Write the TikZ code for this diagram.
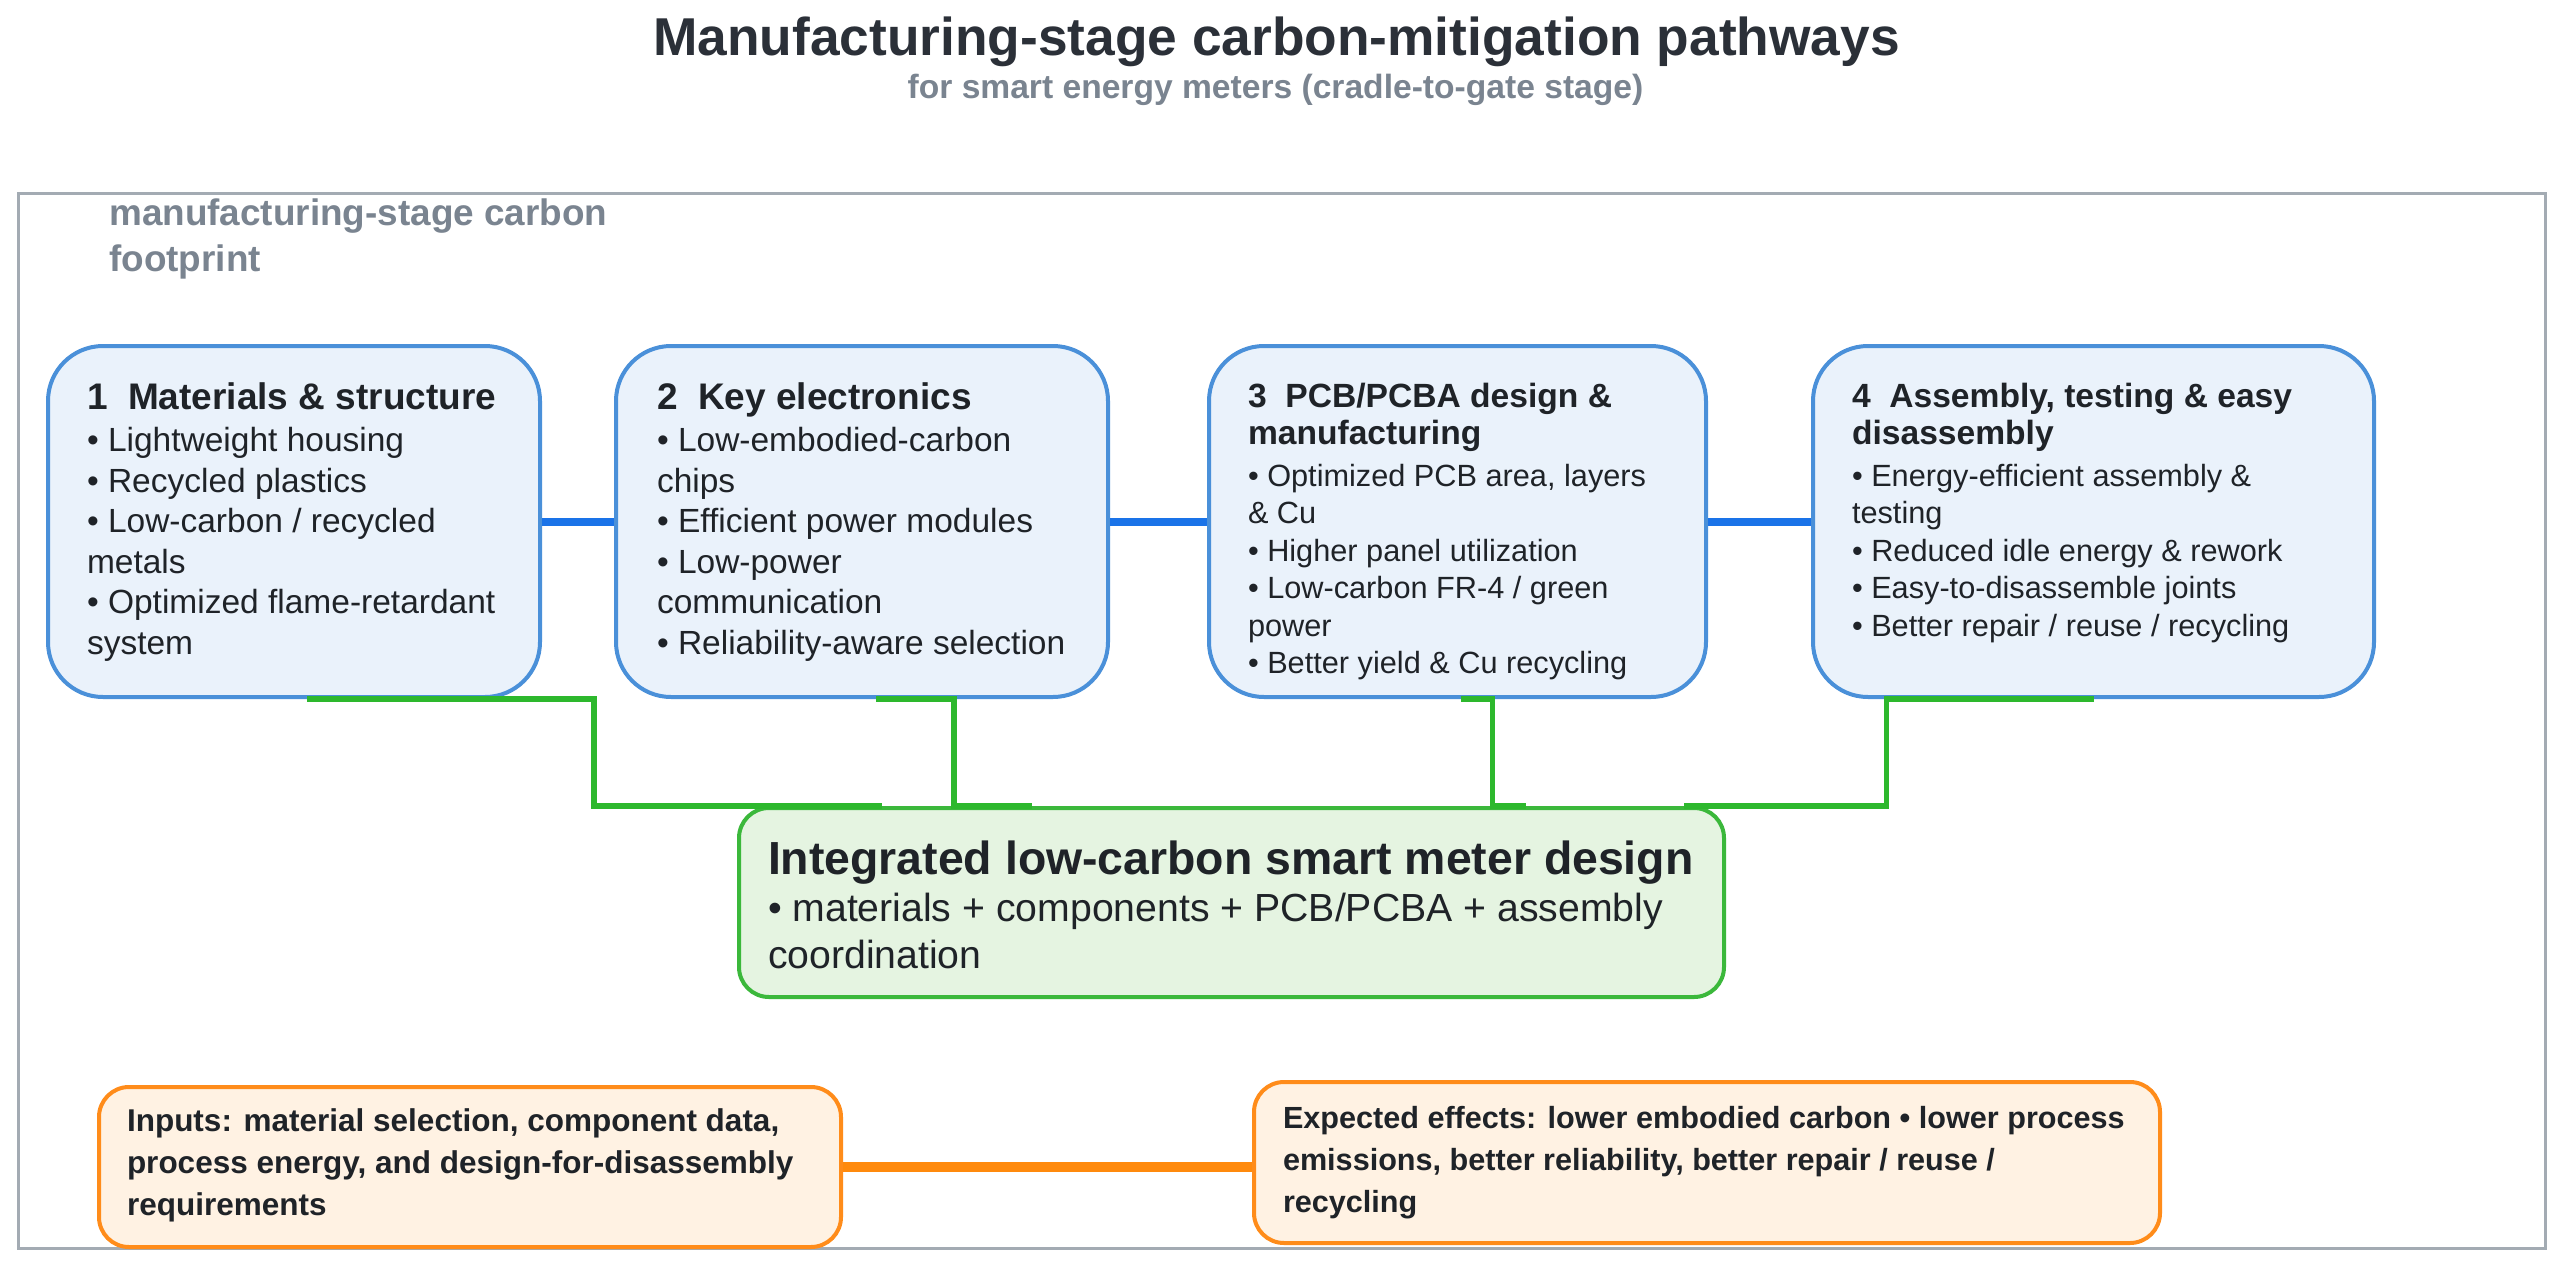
\documentclass[tikz,border=0pt]{standalone}
\usepackage{fontspec}
\setmainfont{Liberation Sans}
\usetikzlibrary{calc}
\definecolor{frameC}{HTML}{A3ABB3}
\definecolor{blueB}{HTML}{4A90D9}
\definecolor{blueF}{HTML}{EAF2FB}
\definecolor{blueL}{HTML}{1A73E8}
\definecolor{greenB}{HTML}{3BB83B}
\definecolor{greenF}{HTML}{E5F4E1}
\definecolor{greenL}{HTML}{2DB82D}
\definecolor{orangeB}{HTML}{FF8C1A}
\definecolor{orangeF}{HTML}{FFF2E3}
\definecolor{orangeL}{HTML}{FF8A0D}
\definecolor{titleC}{HTML}{2B3038}
\definecolor{greyC}{HTML}{7A8490}
\definecolor{txtC}{HTML}{1F2328}
\newcommand\BoxTitleA[1]{{\fontsize{37}{44}\selectfont\bfseries #1}}
\newcommand\BoxTitleB[1]{{\fontsize{33.6}{40}\selectfont\bfseries #1}}
\newcommand\GreenTitle[1]{{\fontsize{46.4}{56}\selectfont\bfseries #1}}
\begin{document}
\begin{tikzpicture}[x=1pt,y=-1pt,
  bbox/.style={draw=blueB, fill=blueF, line width=4pt, rounded corners=55pt, inner sep=0pt},
  gbox/.style={draw=greenB, fill=greenF, line width=4pt, rounded corners=30pt, inner sep=0pt},
  obox/.style={draw=orangeB, fill=orangeF, line width=4pt, rounded corners=30pt, inner sep=0pt},
  txt/.style={inner sep=0pt, outer sep=0pt, align=left, text=txtC},
  bodyA/.style={font=\fontsize{33.5}{40.5}\selectfont},
  bodyB/.style={font=\fontsize{30.7}{37.5}\selectfont},
  bline/.style={draw=blueL, line width=8pt},
  gline/.style={draw=greenL, line width=5.5pt},
  oline/.style={draw=orangeL, line width=10pt}]
\useasboundingbox (0,0) rectangle (2557,1266);
\fill[white] (0,0) rectangle (2557,1266);

% title
\node[anchor=base, inner sep=0pt, text=titleC, font=\fontsize{53.3}{64}\selectfont\bfseries] (title) at (1276.5,55) {Manufacturing-stage carbon-mitigation pathways};
\node[anchor=base, inner sep=0pt, text=greyC, font=\fontsize{33.6}{40}\selectfont\bfseries] (subtitle) at (1275.5,98) {for smart energy meters (cradle-to-gate stage)};

% frame
\node[draw=frameC, line width=3pt, minimum width=2527pt, minimum height=1055pt, inner sep=0pt] (frame) at (1281.5,720.5) {};
\node[anchor=north west, inner sep=0pt, align=left, text=greyC, font=\fontsize{36.9}{46}\selectfont\bfseries] (label) at (109,199) {manufacturing-stage carbon\\footprint};

% blue boxes
\node[bbox, minimum width=492pt, minimum height=351pt] (b1) at (294,521.5) {};
\node[bbox, minimum width=492pt, minimum height=351pt] (b2) at (862,521.5) {};
\node[bbox, minimum width=497pt, minimum height=351pt] (b3) at (1457.5,521.5) {};
\node[bbox, minimum width=561pt, minimum height=351pt] (b4) at (2093.5,521.5) {};

\node[txt, bodyA, anchor=north west] (t1) at (87,383) {\BoxTitleA{1\ \ Materials \& structure}\\[1.5pt]
• Lightweight housing\\
• Recycled plastics\\
• Low-carbon / recycled\\
metals\\
• Optimized flame-retardant\\
system};
\node[txt, bodyA, anchor=north west] (t2) at (657,383) {\BoxTitleA{2\ \ Key electronics}\\[1.5pt]
• Low-embodied-carbon\\
chips\\
• Efficient power modules\\
• Low-power\\
communication\\
• Reliability-aware selection};
\node[txt, bodyB, anchor=north west] (t3) at (1248,383) {\BoxTitleB{3\ \ PCB/PCBA design \&}\\
\BoxTitleB{manufacturing}\\[4pt]
• Optimized PCB area, layers\\
\& Cu\\
• Higher panel utilization\\
• Low-carbon FR-4 / green\\
power\\
• Better yield \& Cu recycling};
\node[txt, bodyB, anchor=north west] (t4) at (1852,383) {\BoxTitleB{4\ \ Assembly, testing \& easy}\\
\BoxTitleB{disassembly}\\[4pt]
• Energy-efficient assembly \&\\
testing\\
• Reduced idle energy \& rework\\
• Easy-to-disassemble joints\\
• Better repair / reuse / recycling};

% green box
\node[gbox, minimum width=985pt, minimum height=189pt] (g) at (1231.5,902.5) {};
\node[txt, anchor=north west, font=\fontsize{39.2}{47}\selectfont] (gt) at (768,841) {\GreenTitle{Integrated low-carbon smart meter design}\\
• materials + components + PCB/PCBA + assembly\\
coordination};

% orange boxes
\node[obox, minimum width=742pt, minimum height=160pt] (inp) at (470,1167) {};
\node[obox, minimum width=906pt, minimum height=161pt] (eff) at (1707,1162.5) {};
\node[txt, anchor=west, font=\fontsize{31.5}{42}\selectfont\bfseries] (inpt) at (127,1165) {Inputs: material selection, component data,\\
process energy, and design-for-disassembly\\
requirements};
\node[txt, anchor=west, font=\fontsize{30.6}{42}\selectfont\bfseries] (efft) at (1283,1163) {Expected effects: lower embodied carbon • lower process\\
emissions, better reliability, better repair / reuse /\\
recycling};

% connectors
\draw[bline] (b1.east) -- (b2.west);
\draw[bline] (b2.east) -- (b3.west);
\draw[bline] (b3.east) -- (b4.west);
\draw[oline] (inp.east) -- (inp.east -| eff.west);

\draw[gline] ([xshift=13pt]b1.south) -- ([xshift=300pt]b1.south) |- ([xshift=-350pt]g.north);
\draw[gline] ([xshift=14pt]b2.south) -- ([xshift=92pt]b2.south) |- ([xshift=-200pt]g.north);
\draw[gline] ([xshift=3pt]b3.south) -- ([xshift=35pt]b3.south) |- ([xshift=294pt]g.north);
\draw[gline] (b4.south) -- ([xshift=-207pt]b4.south) |- ([xshift=452pt]g.north);
\end{tikzpicture}
\end{document}
